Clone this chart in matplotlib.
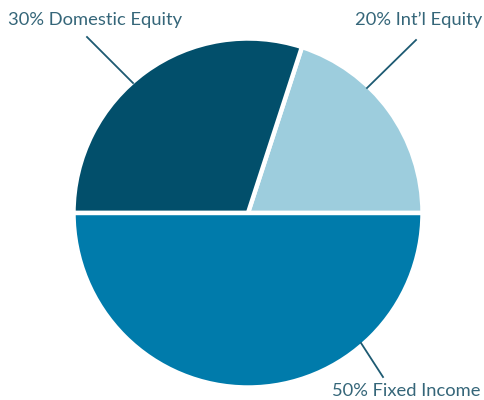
import matplotlib.pyplot as plt

labels = ["20% Int\u2019l Equity", "30% Domestic Equity", "50% Fixed Income"]
shares = [20, 30, 50]
colors = ["#9dcddd", "#024f6b", "#007bab"]

# label text anchor and leader line (pixel coords, y measured from top)
label_pos = [(482, 20, "right"), (8, 20, "left"), (481, 391, "right")]
leaders = [((416, 40), (367, 88)), ((87, 37), (133, 83)), ((383, 377), (361, 343))]

W, H = 484, 400
fig = plt.figure(figsize=(W / 100, H / 100), dpi=100)
ax = fig.add_axes([0, 0, 1, 1])
ax.set_xlim(0, W)
ax.set_ylim(0, H)
ax.set_aspect("equal")
ax.axis("off")

ax.pie(shares, colors=colors, startangle=0, counterclock=True,
       center=(248, H - 213), radius=174.5,
       wedgeprops=dict(edgecolor="white", linewidth=3.2))
ax.set_xlim(0, W)
ax.set_ylim(0, H)

text_color = "#356679"
for lab, (x, y, ha) in zip(labels, label_pos):
    ax.text(x, H - y, lab, ha=ha, va="center", color=text_color,
            fontsize=13.2, family="Lato")
for (p0, p1) in leaders:
    ax.plot([p0[0], p1[0]], [H - p0[1], H - p1[1]], color="#1d5a72", lw=1.3)

fig.savefig("out.png", dpi=100)
